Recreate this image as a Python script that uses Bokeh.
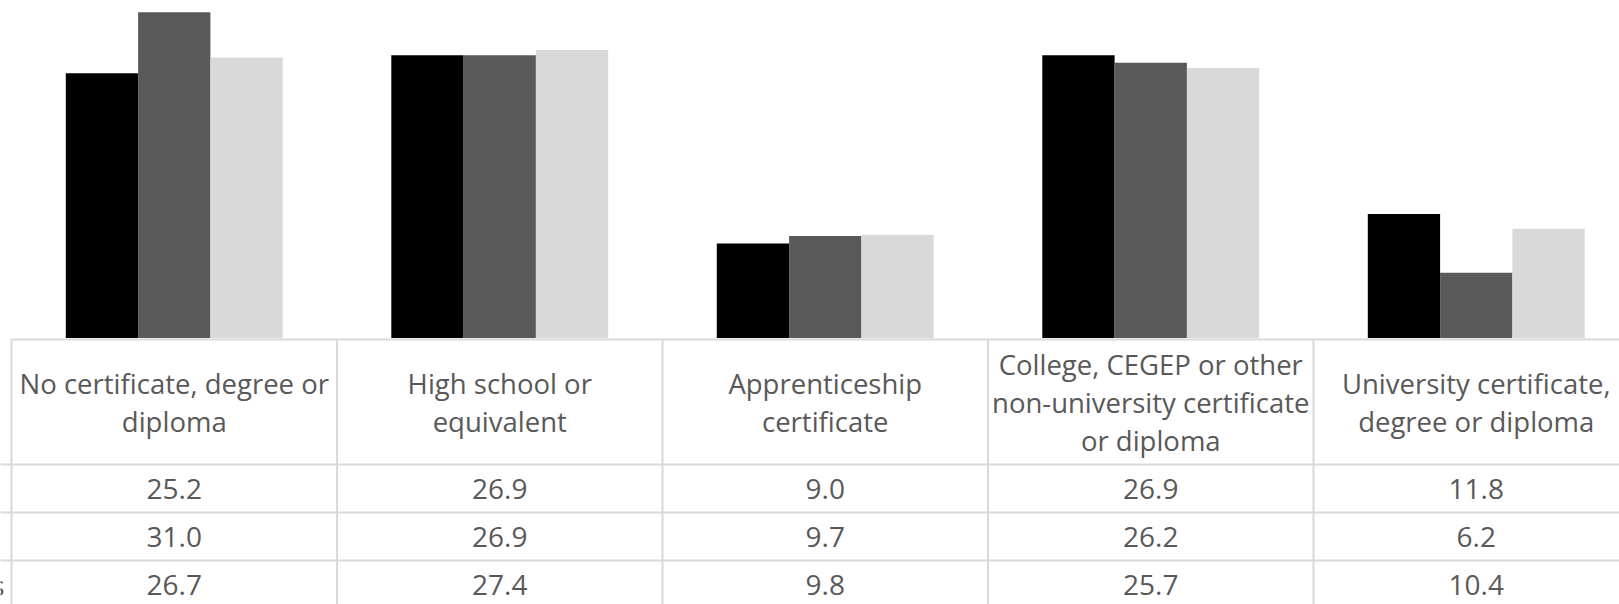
from bokeh.plotting import figure
from bokeh.models import Range1d, ColumnDataSource
from bokeh.core.properties import value
from bokeh.embed import file_html
from bokeh.resources import INLINE

# ---- data ----
categories = [
    "No certificate, degree or\ndiploma",
    "High school or\nequivalent",
    "Apprenticeship\ncertificate",
    "College, CEGEP or other\nnon-university certificate\nor diploma",
    "University certificate,\ndegree or diploma",
]
# row labels of the data table: only the last letter of the third one is
# visible in the (cropped) reference
row_label_tails = ["", "", "s"]
series_1 = [25.2, 26.9, 9.0, 26.9, 11.8]
series_2 = [31.0, 26.9, 9.7, 26.2, 6.2]
series_3 = [26.7, 27.4, 9.8, 25.7, 10.4]
series_colors = ["#000000", "#595959", "#D9D9D9"]

# ---- layout (screen pixels of the reference) ----
W, H = 1619, 604
OX, OY = 0, 0
COL_LEFT = 11.0
COL_W = 325.5
BASE_Y = 337.5
PX_PER_UNIT = 10.51
TEXT_COLOR = "#595959"
GRID_COLOR = "#D9D9D9"
FONT = "Open Sans"
HEADER_SIZE = "27.5px"
VALUE_SIZE = "28px"
LINE_SPACING = 38.0


def xd(screen_x):
    return (screen_x - COL_LEFT) / COL_W


def yd(screen_y):
    return (BASE_Y - screen_y) / PX_PER_UNIT


p = figure(
    width=W, height=H,
    x_range=Range1d(xd(OX), xd(OX + W)),
    y_range=Range1d(yd(OY + H), yd(OY)),
    x_axis_type=None, y_axis_type=None,
    output_backend="svg", toolbar_location=None,
    min_border=0, outline_line_color=None,
)
p.grid.visible = False
p.background_fill_color = "white"
p.border_fill_color = "white"

n = len(categories)
bar_w = 72.3 / COL_W
offsets = [-bar_w, 0.0, bar_w]
for vals, off, col in zip([series_1, series_2, series_3], offsets, series_colors):
    src = ColumnDataSource(dict(x=[i + 0.5 + off for i in range(n)], top=vals))
    p.vbar(x="x", top="top", bottom=0, width=bar_w, source=src,
           fill_color=col, line_color=None)

# ---- data table grid ----
x_far_left = xd(-50)
x_far_right = xd(OX + W + 50)
table_top = yd(339)
row_lines = [yd(464), yd(512), yd(560), yd(608)]
p.segment(x0=[0], y0=[table_top], x1=[x_far_right], y1=[table_top],
          line_color=GRID_COLOR, line_width=2)
p.segment(x0=[x_far_left] * len(row_lines), y0=row_lines,
          x1=[x_far_right] * len(row_lines), y1=row_lines,
          line_color=GRID_COLOR, line_width=2)
vx = list(range(n + 1))
p.segment(x0=vx, y0=[table_top] * len(vx), x1=vx, y1=[yd(650)] * len(vx),
          line_color=GRID_COLOR, line_width=2)

# header text, one glyph per line, block centred in the header cell
hx, hy, ht = [], [], []
header_center = 401.5
for i, label in enumerate(categories):
    lines = label.split("\n")
    m = len(lines)
    for j, ln in enumerate(lines):
        hx.append(i + 0.5)
        hy.append(yd(header_center + (j - (m - 1) / 2) * LINE_SPACING))
        ht.append(ln)
p.text(x=hx, y=hy, text=ht,
       text_align="center", text_baseline="middle",
       text_font=value(FONT), text_font_size=HEADER_SIZE,
       text_color=TEXT_COLOR)

# values
centers = [i + 0.5 for i in range(n)]
row_centers = [488.5, 536.5, 584.0]
for vals, rc in zip([series_1, series_2, series_3], row_centers):
    p.text(x=centers, y=[yd(rc)] * n, text=[f"{v:.1f}" for v in vals],
           text_align="center", text_baseline="middle",
           text_font=value(FONT), text_font_size=VALUE_SIZE,
           text_color=TEXT_COLOR)

# row labels (cut off at the left edge, as in the reference)
lab = [(t, rc) for t, rc in zip(row_label_tails, row_centers) if t]
p.text(x=[xd(4)] * len(lab), y=[yd(rc) for _, rc in lab], text=[t for t, _ in lab],
       text_align="right", text_baseline="middle",
       text_font=value(FONT), text_font_size=VALUE_SIZE,
       text_color=TEXT_COLOR)

open("out.html", "w").write(file_html(p, INLINE))
